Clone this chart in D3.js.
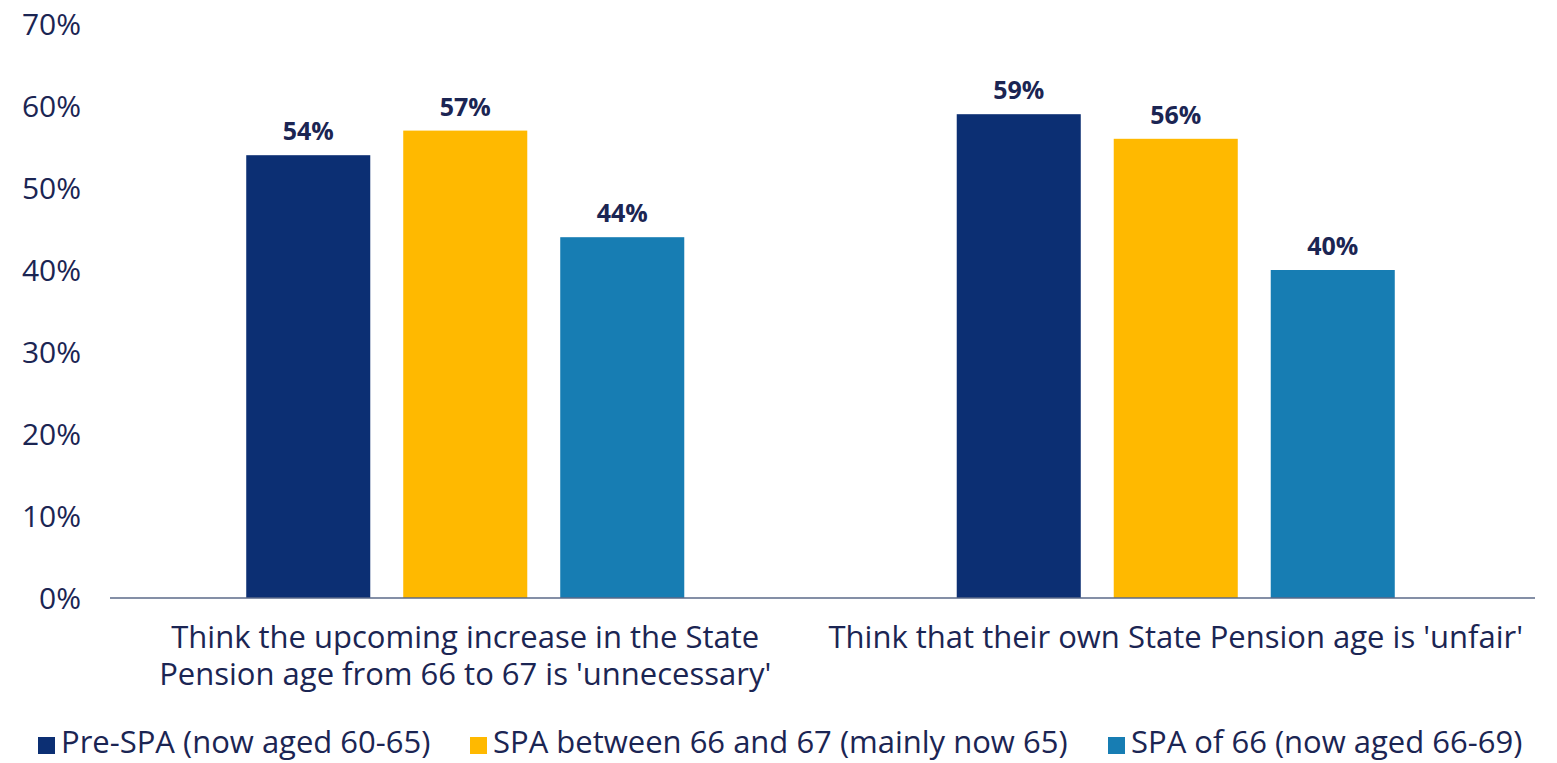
<!DOCTYPE html>
<html>
<head>
<meta charset="utf-8">
<script src="https://cdn.jsdelivr.net/npm/d3@7"></script>
<style>
  body { margin: 0; background: #fff; }
  svg text { font-family: "Open Sans", "Noto Sans", sans-serif; fill: #1b2553; }
</style>
</head>
<body>
<svg id="chart" width="1557" height="763"></svg>
<script>
// data
var categories = [
    ["Think the upcoming increase in the State", "Pension age from 66 to 67 is 'unnecessary'"],
    ["Think that their own State Pension age is 'unfair'"]
];
var seriesNames = ["Pre-SPA (now aged 60-65)", "SPA between 66 and 67 (mainly now 65)", "SPA of 66 (now aged 66-69)"];
var seriesColors = ["#0c2f73", "#ffb900", "#177db3"];
var preSPA = [54, 59];
var spaBetween = [57, 56];
var spaOf66 = [44, 40];
var yTicks = [0, 10, 20, 30, 40, 50, 60, 70];

var seriesValues = [preSPA, spaBetween, spaOf66];

var svg = d3.select("#chart");

var plotLeft = 110, plotRight = 1535, plotTop = 24, plotBottom = 598;

var y = d3.scaleLinear().domain([0, 70]).range([plotBottom, plotTop]);
var x0 = d3.scaleBand().domain(d3.range(categories.length)).range([plotLeft, plotRight - 4]);
var bw = x0.bandwidth();
var x1 = d3.scaleBand().domain(d3.range(seriesNames.length))
    .range([bw / 2 - 235.5, bw / 2 + 235.5])
    .paddingInner(0.21).paddingOuter(0.105);

// y axis labels (no line)
var yAxis = svg.append("g")
    .attr("transform", "translate(" + 81 + ",0)")
    .call(d3.axisLeft(y).tickValues(yTicks).tickFormat(d => d + "%").tickSize(0).tickPadding(0));
yAxis.select(".domain").remove();
yAxis.selectAll("text")
    .attr("fill", null)
    .style("font-family", "'Open Sans', 'Noto Sans', sans-serif")
    .style("font-size", "30px")
    .attr("dy", "0.35em");

// bars
var groups = svg.append("g").selectAll("g")
    .data(categories)
    .enter().append("g")
    .attr("transform", (d, i) => "translate(" + x0(i) + ",0)");

groups.selectAll("rect")
    .data((d, i) => seriesValues.map((vals, s) => ({s: s, v: vals[i]})))
    .enter().append("rect")
    .attr("x", d => x1(d.s))
    .attr("y", d => y(d.v))
    .attr("width", x1.bandwidth())
    .attr("height", d => y(0) - y(d.v))
    .attr("fill", d => seriesColors[d.s]);

groups.selectAll("text.val")
    .data((d, i) => seriesValues.map((vals, s) => ({s: s, v: vals[i]})))
    .enter().append("text")
    .attr("class", "val")
    .attr("x", d => x1(d.s) + x1.bandwidth() / 2)
    .attr("y", d => y(d.v) - 15)
    .attr("text-anchor", "middle")
    .style("font-size", "25px")
    .style("font-weight", "bold")
    .text(d => d.v + "%");

// baseline
svg.append("line")
    .attr("x1", plotLeft).attr("x2", plotRight)
    .attr("y1", y(0)).attr("y2", y(0))
    .attr("stroke", "#5b6a88").attr("stroke-width", 1.5);

// category labels
groups.each(function(lines, i) {
    var t = d3.select(this).append("text")
        .attr("text-anchor", "middle")
        .style("font-size", "31px");
    lines.forEach((ln, k) => {
        t.append("tspan")
            .attr("x", bw / 2)
            .attr("y", 648 + k * 37)
            .text(ln);
    });
});

// legend
var legendX = [38, 470, 1108];
var legend = svg.append("g").selectAll("g")
    .data(seriesNames)
    .enter().append("g")
    .attr("transform", (d, i) => "translate(" + legendX[i] + ",737)");
legend.append("rect")
    .attr("width", 17).attr("height", 17)
    .attr("fill", (d, i) => seriesColors[i]);
legend.append("text")
    .attr("x", 23).attr("y", 16)
    .style("font-size", "31px")
    .text(d => d);
</script>
</body>
</html>
